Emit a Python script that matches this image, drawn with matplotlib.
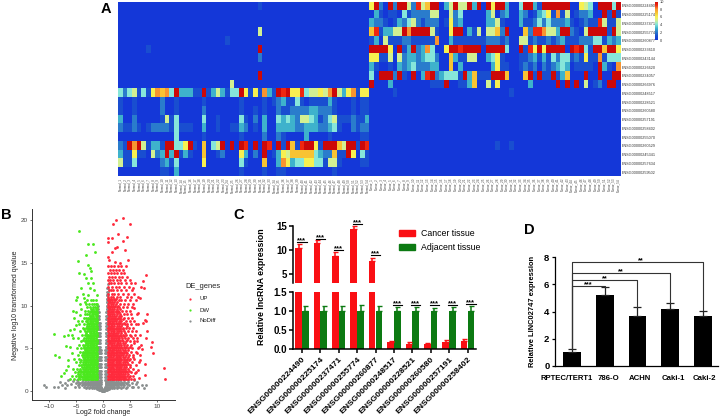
import matplotlib
matplotlib.use("Agg")
import matplotlib.pyplot as plt
import numpy as np
from matplotlib.colors import LinearSegmentedColormap
from matplotlib.patches import Rectangle

plt.rcParams['font.family'] = ['Liberation Sans', 'DejaVu Sans']

# ---------- Panel A data (0-10 scale, 'a' = 10), one string per row ----------
heat_rows = [
 "0000000000 0000000000 0000000000 1000000000 0000000000 0000" "6a20a2aa52 957aa035a5 5a3a0a6aa3 004aa31aaa aaa006540a aa4a",
 "0000000000 0000000000 0000000000 0000000000 0000000000 0000" "0310110412 2225500524 0000035023 0032013461 8150122300 a1a1",
 "0000000000 0000000000 0000000000 0000000000 0000000000 0000" "3221013245 2122201623 0000033510 0031124242 2231012119 5115",
 "0000000000 0000000000 0000000000 5000000000 0000000000 0000" "7913355a8a aaa51006aa 031505572a 0007299855 3aa2105aaa a1a5",
 "0000000000 0000000000 0001000000 0000000000 0000000000 0000" "1305111221 1111800311 1111122212 0055121121 2311122244 1323",
 "0000001000 0000000000 0000000000 a000000000 0000000000 0000" "aaaa60a13a 2384006aa9 aaaa0aaaa4 00a196a6aa aa0a9a41aa 7aa6",
 "0000000000 0000000000 0000000000 2000000000 0000000000 0000" "6611505233 2344200731 1550034610 0011231314 2441216118 1444",
 "0000000000 0000000000 0000000000 0000000000 0000000000 0000" "3100103234 2223300703 0000003611 0012120212 343011110a 3108",
 "0000000000 0000000000 0000000000 a000000000 0000000000 0000" "40aaa2a10a 039a234441 a37111aaa7 0007a1a11a 137000a00a 00aa",
 "0000000000 0000000000 0000500000 0000000000 0000000000 0000" "a000300000 000111a001 1370051600 0000300000 a0a0a05012 0aa0",
 "4245141687 84a33311a1 353144a616 1831a9a669 455658a536 8166" "0000010000 0000000000 0000000000 1000000000 0000000000 0000",
 "1001000002 0010000010 0000001000 0101231141 0111131000 1011" "0000000000 0000000000 0000000000 0000000000 0000000000 0000",
 "1001000002 0010000020 0000001001 0100211222 2332221000 1011" "0000000000 0000000000 0000000000 0000000000 0000000000 0000",
 "3002000001 5140000040 0100004102 0300434325 5431245111 2113" "0000000000 0000000000 0000000000 0000000000 0000000000 0000",
 "2112101222 2141110030 0100113201 0300333322 3332234100 2122" "0000000000 0000000000 0000000000 0000000000 0000000000 0000",
 "0000000000 0040000010 0000001000 0200210000 3000010000 0011" "0000000000 0000000000 0000000000 0000000000 0000000000 0000",
 "21a8a51331 aa446a1070 45a0a0a90a 0a90a1a719 aa61aaa75a a1a9" "0000000000 0000000000 0000000100 1000000000 0000000000 0000",
 "3116110523 a3a1310070 0120006302 0a01365777 774322711a 6041" "0000000000 0000000000 0000000000 0000000000 0000000000 0000",
 "5114000002 3140000060 0000004100 0700386344 6644155100 0011" "0000000000 0000000000 0000000000 0000000000 0000000000 0000",
 "0000000001 1030000000 0000001000 0100110000 0000001000 0000" "0000000000 0000000000 0000000000 0000000000 0000000000 0000",
]
heat_genes = ["ENSG00000224490", "ENSG00000225174", "ENSG00000237471", "ENSG00000255774",
              "ENSG00000260877", "ENSG00000233610", "ENSG00000243144", "ENSG00000226620",
              "ENSG00000234057", "ENSG00000266976", "ENSG00000248517", "ENSG00000228521",
              "ENSG00000260580", "ENSG00000257191", "ENSG00000258402", "ENSG00000255070",
              "ENSG00000260529", "ENSG00000245341", "ENSG00000257634", "ENSG00000259502"]
heat_samples = [f"Normal_{i+1}" for i in range(54)] + [f"Tumor_{i+1}" for i in range(54)]
cbar_ticks = [0, 2, 4, 6, 8, 10]
heat_colors = ["#1437d8", "#1a4fd0", "#2a7ccc", "#3fb4cc", "#86e6da", "#d2f094",
               "#f8f050", "#f8c434", "#f89430", "#f02810", "#cc0808"]

# ---------- Panel B data: read by eye, row by row ----------
green_rows = [
 (1.4, [-1.1,-1.3,-1.5,-1.8,-2.0,-2.3,-2.6,-2.9,-3.1,-3.4,-3.8,-4.2,-4.7,-5.3,-6.2]),
 (1.6, [-1.1,-1.4,-1.7,-1.9,-2.2,-2.4,-2.7,-3.0,-3.3,-3.6,-3.9,-4.4]),
 (1.8, [-1.2,-1.5,-1.7,-2.0,-2.2,-2.5,-2.8,-3.0,-3.3,-3.6,-4.0,-4.4,-5.0,-5.7]),
 (2.0, [-1.1,-1.3,-1.6,-1.9,-2.1,-2.4,-2.6,-2.9,-3.2,-3.5,-3.8,-4.2,-4.7]),
 (2.2, [-1.3,-1.6,-1.9,-2.1,-2.4,-2.7,-2.9,-3.2,-3.5,-3.8,-4.1,-4.6,-5.2]),
 (2.4, [-1.1,-1.4,-1.7,-1.9,-2.2,-2.5,-2.8,-3.0,-3.3,-3.6,-4.0,-4.4]),
 (2.6, [-1.2,-1.4,-1.7,-2.0,-2.3,-2.5,-2.8,-3.1,-3.4,-3.7,-4.3,-4.9,-5.6]),
 (2.8, [-1.1,-1.3,-1.6,-1.8,-2.1,-2.4,-2.6,-2.9,-3.2,-3.5,-3.9]),
 (3.0, [-1.3,-1.6,-1.8,-2.1,-2.4,-2.7,-3.0,-3.2,-3.6,-4.0,-4.5]),
 (3.2, [-1.1,-1.4,-1.7,-1.9,-2.2,-2.5,-2.8,-3.1,-3.3,-3.7]),
 (3.4, [-1.2,-1.5,-1.7,-2.0,-2.2,-2.5,-2.8,-3.1,-3.4,-3.8,-4.2,-5.0]),
 (3.6, [-1.1,-1.3,-1.6,-1.8,-2.1,-2.3,-2.6,-2.9,-3.2,-3.5,-4.0]),
 (3.8, [-1.3,-1.6,-1.9,-2.2,-2.4,-2.7,-3.0,-3.3,-3.6,-4.4,-5.3]),
 (4.0, [-1.1,-1.4,-1.7,-1.9,-2.1,-2.5,-2.8,-3.0,-3.4,-3.8]),
 (4.2, [-1.2,-1.4,-1.7,-2.0,-2.3,-2.6,-2.9,-3.1,-3.5,-3.9,-4.7]),
 (4.4, [-1.1,-1.3,-1.5,-1.8,-2.1,-2.4,-2.7,-3.0,-3.3,-3.7]),
 (4.6, [-1.3,-1.6,-1.8,-2.1,-2.4,-2.7,-3.0,-3.3,-3.7,-4.3]),
 (4.8, [-1.1,-1.4,-1.7,-1.9,-2.2,-2.6,-2.9,-3.1,-3.4]),
 (5.0, [-1.2,-1.5,-1.7,-2.0,-2.3,-2.5,-2.8,-3.2,-3.5,-4.0,-4.8]),
 (5.2, [-1.1,-1.3,-1.6,-1.9,-2.2,-2.4,-2.7,-3.0,-3.6]),
 (5.4, [-1.3,-1.6,-1.9,-2.1,-2.4,-2.7,-3.0,-3.4,-3.8,-4.4]),
 (5.6, [-1.1,-1.4,-1.7,-2.0,-2.2,-2.5,-2.8,-3.1]),
 (5.8, [-1.2,-1.5,-1.8,-2.0,-2.3,-2.6,-2.9,-3.3,-4.1]),
 (6.0, [-1.1,-1.3,-1.6,-1.9,-2.1,-2.4,-2.7,-3.2,-3.7]),
 (6.2, [-1.3,-1.6,-1.9,-2.2,-2.5,-2.8,-3.1,-3.6,-4.6]),
 (6.4, [-1.1,-1.4,-1.7,-2.0,-2.3,-2.6,-2.9]),
 (6.6, [-1.2,-1.5,-1.7,-2.0,-2.4,-2.7,-3.0,-3.4,-3.9]),
 (6.8, [-1.1,-1.3,-1.6,-1.9,-2.2,-2.5,-3.2]),
 (7.0, [-1.3,-1.6,-1.9,-2.2,-2.6,-2.9,-3.3,-4.2]),
 (7.2, [-1.1,-1.4,-1.7,-2.0,-2.4,-2.7,-3.5]),
 (7.4, [-1.2,-1.5,-1.8,-2.1,-2.4,-2.8,-3.1,-3.7]),
 (7.6, [-1.1,-1.3,-1.6,-1.9,-2.3,-2.6,-3.0]),
 (7.8, [-1.3,-1.7,-2.0,-2.3,-2.6,-3.0,-3.5,-4.5]),
 (8.0, [-1.1,-1.4,-1.8,-2.1,-2.5,-2.8]),
 (8.2, [-1.2,-1.5,-1.9,-2.2,-2.5,-2.9,-3.2,-3.9]),
 (8.4, [-1.1,-1.3,-1.7,-2.0,-2.4,-2.7]),
 (8.6, [-1.3,-1.6,-2.0,-2.4,-2.7,-3.1,-3.6]),
 (8.8, [-1.1,-1.4,-1.8,-2.2,-2.5]),
 (9.0, [-1.2,-1.5,-1.8,-2.1,-2.6,-3.0,-3.4]),
 (9.2, [-1.1,-1.3,-1.6,-2.0,-2.4]),
 (9.4, [-1.3,-1.7,-2.0,-2.3,-2.8,-3.3]),
 (9.6, [-1.1,-1.4,-1.8,-2.2]),
 (9.8, [-1.2,-1.5,-1.9,-2.4,-2.9]),
 (10.2, [-1.1,-1.3,-1.6,-2.1,-2.6,-3.1]),
 (10.6, [-1.3,-1.8,-2.3,-2.9]),
]
green_sparse = [(-4.4,18.75),(-2.8,17.2),(-1.8,17.2),(-3.1,15.9),(-1.5,16.25),(-4.6,15.2),(-2.8,14.8),
 (-4.4,13.8),(-3.6,13.7),(-2.5,14.4),(-2.2,14.0),(-3.1,13.2),(-2.3,13.2),(-2.7,12.6),(-1.8,12.6),
 (-4.1,12.1),(-2.4,12.1),(-1.6,11.8),(-1.2,11.25),(-4.75,11.05),(-2.7,11.25),(-3.6,10.85),(-5.0,10.6),
 (-4.3,10.2),(-5.6,9.4),(-5.4,8.5),(-4.3,8.9),(-5.0,7.7),(-9.0,6.7),(-6.5,6.55),(-5.8,6.55),(-7.2,6.4),
 (-5.5,6.2),(-6.1,7.1),(-6.9,5.3),(-6.1,5.2),(-8.8,4.2),(-8.1,4.0),(-5.8,4.4),(-6.4,3.6),(-6.9,2.5),
 (-7.2,2.1),(-7.8,1.8),(-6.4,2.9),(-5.1,9.2),(-4.7,8.2),(-3.8,11.4),(-3.3,10.4),(-4.0,9.6),(-5.3,7.2)]
red_rows = [
 (1.4, [1.0,1.3,1.6,1.9,2.1,2.4,2.7,3.0,3.3,3.6,3.9,4.2,4.6,5.1,5.7]),
 (1.6, [1.1,1.4,1.7,2.0,2.3,2.6,2.9,3.2,3.5,3.8,4.1,4.8]),
 (1.8, [1.0,1.2,1.5,1.8,2.0,2.3,2.6,2.9,3.2,3.5,3.8,4.4,4.9,5.5]),
 (2.0, [1.1,1.4,1.7,2.1,2.4,2.7,3.0,3.3,3.6,4.0,4.6]),
 (2.2, [1.0,1.4,1.7,1.9,2.2,2.5,2.8,3.1,3.4,3.7,4.1,4.5,5.2,6.1]),
 (2.4, [1.1,1.3,1.6,2.0,2.3,2.6,2.9,3.2,3.5,3.9,4.3,4.8]),
 (2.6, [1.0,1.2,1.5,1.8,2.1,2.4,2.7,3.0,3.3,3.6,4.0,4.7,5.6]),
 (2.8, [1.1,1.4,1.7,1.9,2.3,2.6,2.9,3.2,3.4,3.8,4.2,5.0]),
 (3.0, [1.0,1.3,1.6,2.0,2.2,2.5,2.8,3.1,3.5,3.8,4.3,4.9,6.0]),
 (3.2, [1.1,1.4,1.7,2.1,2.4,2.7,3.0,3.3,3.7,4.0,4.6]),
 (3.4, [1.0,1.3,1.6,1.9,2.3,2.6,2.9,3.2,3.6,4.1,4.5,5.3,6.6]),
 (3.6, [1.1,1.4,1.8,2.1,2.4,2.7,3.0,3.4,3.8,4.3,4.8]),
 (3.8, [1.0,1.3,1.7,2.0,2.2,2.5,2.8,3.1,3.4,3.9,4.4,5.0,5.8]),
 (4.0, [1.1,1.5,1.9,2.3,2.6,2.9,3.2,3.6,4.0,4.6,5.5]),
 (4.2, [1.0,1.2,1.5,1.8,2.1,2.4,2.7,3.0,3.3,3.7,4.2,4.8,5.5,6.9]),
 (4.4, [1.1,1.4,1.7,2.0,2.3,2.6,3.1,3.5,3.9,4.5]),
 (4.6, [1.0,1.4,1.7,1.9,2.3,2.6,2.9,3.3,3.8,4.3,5.1,6.0]),
 (4.8, [1.1,1.3,1.6,2.1,2.4,2.8,3.2,3.6,4.1,4.7]),
 (5.0, [1.0,1.3,1.6,1.8,2.1,2.4,2.8,3.1,3.5,4.0,4.6,5.4,6.4]),
 (5.2, [1.1,1.5,1.9,2.2,2.6,3.0,3.3,3.8,4.3,4.9]),
 (5.4, [1.0,1.4,1.7,2.0,2.3,2.6,2.9,3.4,3.9,4.5,5.2,7.1]),
 (5.6, [1.1,1.3,1.6,2.1,2.5,2.8,3.2,3.6,4.1,5.7]),
 (5.8, [1.0,1.2,1.5,1.9,2.2,2.5,2.8,3.2,3.7,4.2,4.9,5.8,6.3]),
 (6.0, [1.1,1.4,1.8,2.1,2.4,2.7,3.0,3.5,4.4]),
 (6.2, [1.0,1.4,1.7,2.0,2.4,2.7,3.0,3.5,4.1,4.7,5.5,6.2]),
 (6.4, [1.1,1.5,1.9,2.2,2.5,2.9,3.3,3.8,5.2]),
 (6.6, [1.0,1.3,1.6,1.9,2.2,2.6,3.1,3.6,4.3,5.0,5.9]),
 (6.8, [1.1,1.4,1.8,2.1,2.4,2.8,3.4,4.0]),
 (7.0, [1.0,1.4,1.8,2.1,2.5,2.9,3.3,3.9,4.6,5.3,6.1]),
 (7.2, [1.1,1.3,1.6,2.0,2.3,2.7,3.1,3.6]),
 (7.4, [1.0,1.2,1.5,1.9,2.3,2.7,3.2,3.7,4.2,4.8,5.6]),
 (7.6, [1.1,1.4,1.7,2.1,2.5,2.9,3.4,4.4]),
 (7.8, [1.0,1.4,1.7,2.1,2.5,3.0,3.5,4.0,4.5,5.2,6.0]),
 (8.0, [1.1,1.3,1.6,1.9,2.3,2.7,3.2,3.8]),
 (8.2, [1.0,1.3,1.6,2.0,2.4,2.9,3.4,4.3,5.0,5.7]),
 (8.4, [1.1,1.4,1.8,2.2,2.6,3.1,3.6]),
 (8.6, [1.0,1.5,1.8,2.2,2.7,3.1,3.8,4.6,5.4]),
 (8.8, [1.1,1.3,1.6,2.0,2.4,2.9,3.4]),
 (9.0, [1.0,1.3,1.7,2.1,2.6,3.2,3.9,4.4,5.1,6.2]),
 (9.2, [1.1,1.5,1.9,2.3,2.7,3.0]),
 (9.4, [1.0,1.4,1.9,2.3,2.8,3.5,4.2,4.9]),
 (9.6, [1.1,1.3,1.7,2.1,2.6,3.2]),
 (9.8, [1.0,1.2,1.6,2.0,2.5,3.0,3.7,4.5,5.3]),
 (10.0, [1.1,1.4,1.8,2.2,2.8]),
 (10.2, [1.0,1.5,1.9,2.4,3.1,3.8,4.7,5.6]),
 (10.4, [1.1,1.3,1.7,2.1,2.6]),
 (10.6, [1.0,1.3,1.7,2.2,2.9,3.4,4.1,5.0,6.0]),
 (10.8, [1.1,1.5,2.0,2.4]),
 (11.0, [1.0,1.4,1.9,2.6,3.2,4.4,5.2]),
 (11.4, [1.0,1.6,2.1,2.8,3.6,4.6,5.7]),
 (11.8, [1.1,1.4,1.9,2.5,3.3,4.2,5.3]),
 (12.2, [1.0,1.7,2.3,3.0,3.8,4.8]),
 (12.6, [1.1,1.5,2.0,2.7,3.4,4.3,5.1]),
 (13.0, [1.0,1.3,1.9,2.5,3.1,4.0,4.9]),
 (13.4, [1.1,1.7,2.2,2.9,3.5,4.5]),
 (13.8, [1.0,1.4,2.0,2.6,3.3,3.9]),
 (14.2, [1.2,1.8,2.4,3.0,3.6]),
 (14.6, [1.0,1.5,2.1,2.8,3.4,4.3]),
]
red_sparse = [(3.6,20.3),(2.4,20.0),(4.9,19.5),(1.9,19.5),(2.7,18.35),(1.0,17.9),(1.7,17.9),(4.4,18.0),
 (3.6,17.5),(1.0,17.4),(2.5,16.9),(2.2,16.7),(4.1,16.5),(1.6,16.3),(0.9,15.7),(1.1,15.35),(2.2,15.15),
 (4.7,15.35),(3.2,15.0),(8.0,13.6),(7.3,12.9),(5.9,12.6),(7.0,12.2),(7.6,12.1),(5.6,12.0),(6.4,11.0),
 (6.9,10.9),(7.7,8.3),(8.1,9.0),(7.3,8.0),(6.5,7.9),(7.9,8.2),(8.1,7.0),(6.9,6.6),(7.9,6.2),(9.0,5.7),
 (8.8,5.2),(9.3,4.5),(7.8,3.2),(11.3,2.7),(11.4,1.4),(7.7,1.9),(6.5,2.5),(6.7,1.5),(5.9,2.1),(6.8,3.6),
 (6.2,4.4),(5.8,9.7),(6.4,9.1),(6.6,5.2),(7.2,4.9)]
grey_rows = [
 (0.05, [-0.25,-0.15,-0.05,0.05,0.15,0.25]),
 (0.15, [-0.7,-0.55,-0.4,-0.25,-0.1,0.1,0.25,0.4,0.55,0.7]),
 (0.25, [-1.1,-0.9,-0.7,-0.5,-0.35,-0.2,0.2,0.35,0.5,0.7,0.9,1.1]),
 (0.35, [-3.2,-2.6,-2.0,-1.6,-1.3,-1.0,-0.8,-0.6,-0.45,-0.3,0.3,0.45,0.6,0.8,1.0,1.3,1.6,2.0,2.6,3.3,4.2]),
 (0.5, [-5.2,-4.4,-3.6,-3.0,-2.5,-2.1,-1.8,-1.5,-1.2,-0.9,-0.6,-0.4,0.4,0.6,0.9,1.2,1.5,1.8,2.1,2.5,3.0,3.7,4.5,5.4,6.5]),
 (0.65, [-7.6,-6.6,-4.7,-3.9,-3.3,-2.8,-2.4,-2.0,-1.7,-1.4,-1.1,-0.8,-0.5,0.5,0.8,1.1,1.4,1.7,2.0,2.4,2.8,3.3,3.9,4.8,7.2]),
 (0.8, [-5.9,-4.4,-3.7,-3.1,-2.6,-2.2,-1.9,-1.6,-1.3,-1.0,-0.7,-0.45,0.45,0.7,1.0,1.3,1.6,1.9,2.2,2.6,3.1,3.7,4.4,6.0]),
 (0.95, [-5.0,-4.2,-3.5,-3.0,-2.6,-2.2,-1.9,-1.6,-1.3,-1.0,-0.7,-0.5,0.5,0.7,1.0,1.3,1.6,1.9,2.2,2.6,3.0,3.5,4.3,5.3]),
 (1.1, [-4.6,-3.9,-3.3,-2.8,-2.4,-2.0,-1.7,-1.4,-1.1,-0.8,-0.45,0.45,0.8,1.1,1.4,1.7,2.0,2.4,2.8,3.3,3.9,4.7]),
 (1.25, [-6.4,-4.8,-3.8,-3.2,-2.7,-2.3,-1.8,-1.5,-1.2,-0.9,-0.6,-0.3,0.3,0.6,0.9,1.2,1.5,1.8,2.3,2.7,3.2,3.8,4.6,5.8]),
 (1.6, [-1.0,-0.8,-0.6,-0.4,0.4,0.6,0.8]), (2.0, [-1.0,-0.75,-0.5,-0.35,0.35,0.5,0.75]),
 (2.4, [-1.0,-0.8,-0.6,-0.4,0.4,0.55,0.8]), (2.8, [-1.0,-0.7,-0.5,-0.3,0.35,0.6,0.8]),
 (3.2, [-1.0,-0.8,-0.6,-0.4,0.3,0.5,0.75]), (3.6, [-1.0,-0.7,-0.5,-0.3,0.4,0.6,0.8]),
 (4.0, [-1.0,-0.8,-0.6,-0.4,0.35,0.55,0.8]), (4.4, [-1.0,-0.75,-0.55,-0.35,0.4,0.6,0.8]),
 (4.8, [-1.0,-0.8,-0.6,-0.4,0.4,0.6,0.8]), (5.2, [-1.0,-0.7,-0.5,0.45,0.6,0.8]),
 (5.6, [-1.0,-0.75,-0.55,0.45,0.6,0.8]), (6.0, [-1.0,-0.8,-0.6,0.5,0.65,0.85]),
 (6.4, [-1.0,-0.75,-0.55,0.5,0.65,0.85]), (6.8, [-1.0,-0.8,-0.6,0.5,0.6,0.85]),
 (7.2, [-1.0,-0.75,-0.6,0.55,0.65,0.85]), (7.6, [-1.0,-0.8,-0.65,0.55,0.7,0.85]),
 (8.0, [-1.0,-0.8,-0.65,0.55,0.7,0.85]), (8.4, [-0.95,-0.8,0.6,0.7,0.85]),
 (8.8, [-0.95,-0.75,0.6,0.7,0.85]), (9.2, [-1.0,-0.8,0.6,0.75,0.9]), (9.6, [-0.9,0.65,0.75,0.9]),
 (10.0, [-0.95,0.65,0.8,0.9]), (10.4, [0.65,0.75,0.9]), (10.8, [0.7,0.8,0.9]), (11.2, [0.7,0.8,0.9]),
 (11.6, [0.75,0.85]), (12.0, [0.75,0.85]), (12.5, [0.85]),
]
grey_sparse = [(-10.9,0.7),(-10.6,0.5),(-9.0,0.5),(-8.3,0.45),(-8.0,1.1),(-7.1,0.9),(-5.6,1.15),(7.6,0.4),
 (7.9,0.7),(6.2,1.0),(5.6,0.5),(-7.0,0.35)]
legend_title = "DE_genes"
legend_names = ["UP", "DW", "NoDiff"]
volcano_colors = ["#ff2a3c", "#4be81e", "#8a8f8f"]
b_xticks = [-10, -5, 0, 5, 10]
b_yticks = [0, 5, 10, 15, 20]

# ---------- Panel C data ----------
c_genes = ["ENSG00000224490", "ENSG00000225174", "ENSG00000237471", "ENSG00000255774", "ENSG00000260877",
           "ENSG00000248517", "ENSG00000228521", "ENSG00000260580", "ENSG00000257191", "ENSG00000258402"]
cancer_vals = [10.5, 11.4, 8.7, 14.3, 7.7, 0.18, 0.15, 0.13, 0.20, 0.22]
cancer_errs = [0.7, 0.7, 0.9, 0.7, 0.6, 0.04, 0.03, 0.03, 0.04, 0.05]
adjacent_vals = [1.02, 1.02, 1.02, 1.02, 1.02, 1.02, 1.02, 1.02, 1.02, 1.02]
adjacent_errs = [0.13, 0.11, 0.13, 0.15, 0.12, 0.10, 0.09, 0.07, 0.09, 0.12]
c_sig_levels = [11.75, 12.3, 10.1, 15.5, 8.95, 1.17, 1.17, 1.17, 1.17, 1.19]

# ---------- Panel D data ----------
d_cells = ["RPTEC/TERT1", "786-O", "ACHN", "Caki-1", "Caki-2"]
d_vals = [1.0, 5.2, 3.7, 4.15, 3.65]
d_errs = [0.22, 0.6, 0.65, 0.5, 0.42]
d_brackets = [(4, 7.66, 4.1, "**", 2.1), (3, 6.87, 4.65, "**", 1.5), (2, 6.33, 4.36, "**", 1.0), (1, 5.9, 5.8, "***", 0.5)]
d_label_pos = [-0.15, 1.12, 2.07, 3.1, 4.05]


def px_axes(l, t, r, b):
    return fig.add_axes([l / 720, 1 - b / 417, (r - l) / 720, (b - t) / 417])


def px_text(x, y, s, **kw):
    fig.text(x / 720, 1 - y / 417, s, **kw)


def expand(rows, sparse):
    xs = [x for y, row in rows for x in row] + [p[0] for p in sparse]
    ys = [y for y, row in rows for _ in row] + [p[1] for p in sparse]
    return xs, ys


fig = plt.figure(figsize=(7.2, 4.17), dpi=100)
fig.patch.set_facecolor("white")

# ---------- A: heatmap ----------
matrix = np.array([[int(c, 11) for c in r.replace(" ", "")] for r in heat_rows], dtype=float)
cmap = LinearSegmentedColormap.from_list("heat", heat_colors)
axA = px_axes(118, 1.5, 620.5, 176.5)
axA.imshow(matrix, aspect="auto", cmap=cmap, vmin=0, vmax=10, interpolation="nearest")
axA.set_yticks(range(len(heat_genes)))
axA.set_yticklabels(heat_genes, fontsize=2.7, color="#333333")
axA.yaxis.tick_right()
axA.set_xticks(range(len(heat_samples)))
axA.set_xticklabels(heat_samples, fontsize=2.2, rotation=90, color="#444444")
axA.tick_params(length=0, pad=1)
for s in axA.spines.values():
    s.set_visible(False)

axCb = px_axes(655, 1.5, 658, 40)
axCb.imshow(np.linspace(10, 0, 64).reshape(-1, 1), aspect="auto", cmap=cmap, vmin=0, vmax=10, extent=[0, 1, 0, 10])
axCb.set_xticks([])
axCb.yaxis.tick_right()
axCb.set_yticks(cbar_ticks)
axCb.set_yticklabels([str(v) for v in cbar_ticks], fontsize=2.8, color="#333333")
axCb.tick_params(length=0, pad=1)
for s in axCb.spines.values():
    s.set_visible(False)

# ---------- B: volcano ----------
axB = px_axes(31.7, 209, 175, 400)
gx, gy = expand(grey_rows, grey_sparse)
dx, dy = expand(green_rows, green_sparse)
ux, uy = expand(red_rows, red_sparse)
ms = 4.2
axB.scatter(gx, gy, s=ms, c=volcano_colors[2], linewidths=0, zorder=2)
axB.scatter(dx, dy, s=ms, c=volcano_colors[1], linewidths=0, zorder=3)
axB.scatter(ux, uy, s=ms, c=volcano_colors[0], linewidths=0, zorder=3)
axB.set_xlim(-13.2, 13.3)
axB.set_ylim(-1.05, 21.3)
axB.set_xticks(b_xticks)
axB.set_xticklabels([str(v).replace("-", "\u2212") for v in b_xticks])
axB.set_yticks(b_yticks)
axB.tick_params(labelsize=4.6, length=1.5, width=0.5, pad=1.2, labelcolor="#444444", color="#333333")
for s in ["top", "right"]:
    axB.spines[s].set_visible(False)
for s in ["left", "bottom"]:
    axB.spines[s].set_linewidth(0.7)
    axB.spines[s].set_color("#333333")
px_text(103, 412, "Log2 fold change", fontsize=5.1, va="center", ha="center", color="#222222")
px_text(16, 305, "Negative log10 transformed qvalue", fontsize=5.0, rotation=90, va="center", ha="center", color="#222222")
px_text(185, 287, legend_title, fontsize=5.4, va="center", ha="left", color="#222222")
for name, col, y in zip(legend_names, volcano_colors, [299, 310, 321]):
    fig.add_artist(plt.Line2D([190 / 720], [1 - y / 417], marker="o", ms=1.6, mew=0, color=col, transform=fig.transFigure))
    px_text(199, y, name, fontsize=4.3, va="center", ha="left", color="#222222")

# ---------- C: broken bars ----------
axCu = px_axes(293.3, 218, 476, 282.7)
axCl = px_axes(293.3, 292.3, 476, 349.3)
xc = np.arange(len(c_genes))
bw = 0.36
red, grn = "#fa0f14", "#0c7a12"
for ax in (axCu, axCl):
    ax.bar(xc - 0.185, cancer_vals, bw, color=red)
    ax.bar(xc + 0.185, adjacent_vals, bw, color=grn)
    ax.errorbar(xc - 0.185, cancer_vals, yerr=[np.zeros(len(xc)), cancer_errs], fmt="none", ecolor=red, elinewidth=1.1, capsize=1.8, capthick=1.0)
    ax.errorbar(xc + 0.185, adjacent_vals, yerr=[np.zeros(len(xc)), adjacent_errs], fmt="none", ecolor=grn, elinewidth=1.1, capsize=1.8, capthick=1.0)
    ax.set_xlim(-0.47, 9.46)
    for s in ["top", "right"]:
        ax.spines[s].set_visible(False)
    ax.spines["left"].set_linewidth(1.1)
    ax.tick_params(width=1.1, length=3, pad=1.5)
top_scale = (250 - 226) / 5
axCu.set_ylim(10 - (282.7 - 250) / top_scale, 10 + (250 - 218) / top_scale)
axCu.spines["bottom"].set_visible(False)
axCu.spines["left"].set_bounds(axCu.get_ylim()[0], 15)
axCu.set_xticks([])
axCu.set_yticks([5, 10, 15])
axCl.set_ylim(0, 1.5)
axCl.spines["bottom"].set_linewidth(1.1)
axCl.set_yticks([0, 0.5, 1.0, 1.5])
axCl.set_yticklabels(["0.0", "0.5", "1.0", "1.5"])
axCl.set_xticks(xc)
axCl.set_xticklabels(c_genes, rotation=45, ha="right", rotation_mode="anchor", fontsize=6.1, fontweight="bold")
for lab in axCu.get_yticklabels() + axCl.get_yticklabels():
    lab.set_fontsize(7)
    lab.set_fontweight("bold")
for i, lev in enumerate(c_sig_levels):
    ax = axCu if i < 5 else axCl
    off = 0.0 if i < 5 else 0.185
    ax.plot([i + off - 0.25, i + off + 0.25], [lev, lev], color="black", lw=0.8, clip_on=False)
    ax.annotate("***", (i + off, lev), xytext=(0, -1.6), textcoords="offset points", ha="center", va="bottom",
                fontsize=5.5, fontweight="bold", annotation_clip=False)
px_text(262, 287, "Relative lncRNA expression", rotation=90, fontsize=6.3, fontweight="bold", va="center", ha="center")
for y, col, name in [(233, red, "Cancer tissue"), (247, grn, "Adjacent tissue")]:
    fig.add_artist(Rectangle((399 / 720, 1 - (y + 3.2) / 417), 16 / 720, 6.4 / 417, color=col, transform=fig.transFigure))
    px_text(421, y, name, fontsize=6.3, va="center", ha="left")

# ---------- D: bars ----------
axD = px_axes(555, 250, 718, 365.7)
xd = np.arange(len(d_cells))
axD.bar(xd, d_vals, 0.54, color="black")
axD.errorbar(xd, d_vals, yerr=[np.zeros(5), d_errs], fmt="none", ecolor="#222222", elinewidth=0.9, capsize=2.8, capthick=0.9)
axD.set_xlim(-0.52, 4.465)
axD.set_ylim(0, 8 + (257.3 - 250) / 13.55)
axD.set_yticks([0, 2, 4, 6, 8])
axD.set_xticks(d_label_pos)
axD.set_xticklabels(d_cells, fontsize=5.6, fontweight="bold")
axD.tick_params(axis="x", length=0, pad=6.5)
axD.tick_params(axis="y", width=0.9, length=2.5, pad=1.5)
for lab in axD.get_yticklabels():
    lab.set_fontsize(6.8)
    lab.set_fontweight("bold")
for s in ["top", "right"]:
    axD.spines[s].set_visible(False)
axD.spines["left"].set_bounds(0, 8)
axD.spines["left"].set_linewidth(0.9)
axD.spines["bottom"].set_linewidth(0.9)
for target, top, bottom, stars, sx in d_brackets:
    axD.plot([0, 0, target, target], [1.22, top, top, bottom], color="#333333", lw=0.8)
    axD.annotate(stars, (sx, top), xytext=(0, -1.8), textcoords="offset points", ha="center", va="bottom",
                 fontsize=5.2, fontweight="bold", annotation_clip=False)
px_text(532, 311, "Relative LINC02747 expression", rotation=90, fontsize=5.4, fontweight="bold", va="center", ha="center")

# ---------- panel letters ----------
for s, x, y in [("A", 101, 9), ("B", 1, 215), ("C", 233, 215), ("D", 524, 230)]:
    px_text(x, y, s, fontsize=10.5, fontweight="bold", va="center", ha="left")

fig.savefig("out.png", dpi=100)
